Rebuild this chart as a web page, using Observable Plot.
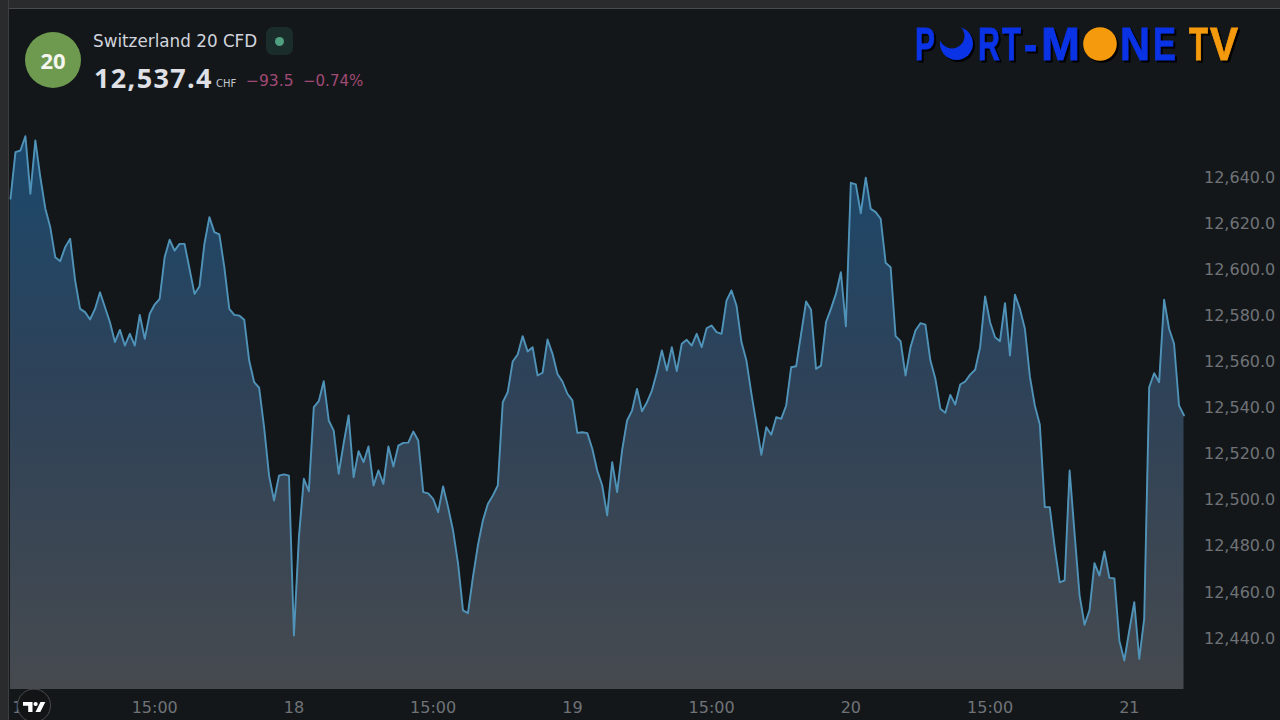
<!DOCTYPE html>
<html><head><meta charset="utf-8">
<script src="https://cdn.jsdelivr.net/npm/d3@7"></script>
<script src="https://cdn.jsdelivr.net/npm/@observablehq/plot@0.6"></script>
<style>
html,body{margin:0;padding:0;width:1280px;height:720px;overflow:hidden;background:#14171a}
#chart{position:absolute;left:0;top:0;width:1280px;height:720px}
#chart svg{position:absolute;left:0;top:0;max-width:none}
.abs{position:absolute;white-space:nowrap;font-family:"DejaVu Sans",sans-serif}
</style></head><body>
<div id="chart"></div>
<div class="abs" style="left:0;top:0;width:1280px;height:8px;background:#2a2b2d;border-bottom:1px solid #4a4b4d"></div>
<div class="abs" style="left:0;top:0;width:8px;height:720px;background:#2a2b2d;border-right:1px solid #3d3e40"></div>
<div class="abs" style="left:25px;top:32px;width:56px;height:56px;border-radius:50%;background:#6d9a4f;color:#f4f6ef;font-weight:700;font-size:22px;line-height:56px;text-align:center;font-family:'Open Sans',sans-serif">20</div>
<div class="abs" style="left:93px;top:31px;font-size:16.8px;line-height:20px;color:#d1d4dc">Switzerland 20 CFD</div>
<div class="abs" style="left:266px;top:27px;width:27px;height:28px;border-radius:7px;background:#1b2d2b"></div>
<div class="abs" style="left:274.5px;top:36.5px;width:9px;height:9px;border-radius:50%;background:#4f9f80"></div>
<div class="abs" style="left:94px;top:60px;font-family:'Open Sans',sans-serif;font-size:27px;line-height:36px;font-weight:700;color:#dfe1e6;letter-spacing:1.35px">12,537.4</div>
<div class="abs" style="left:216px;top:78px;font-size:10px;line-height:12px;color:#c4c7cf">CHF</div>
<div class="abs" style="left:246px;top:71px;font-size:15.5px;line-height:20px;color:#a04a75">−93.5</div>
<div class="abs" style="left:303px;top:71px;font-size:15px;line-height:20px;color:#a04a75">−0.74%</div>
<svg class="abs" id="brand" width="1280" height="720" style="left:0;top:0;pointer-events:none">
  <g id="brandText" font-family="Liberation Sans" font-weight="700" font-size="46" style="filter:drop-shadow(2px 2px 0 #000)"></g>
  <circle cx="34" cy="705.5" r="16.5" fill="#131416" stroke="#4a4b4d" stroke-width="1"/>
  <path d="M23 702h9.5v10h-4.3v-6.2h-5.2z" fill="#fff"/><circle cx="35.6" cy="704" r="2.1" fill="#fff"/><path d="M40.5 702h4.8l-5 10h-4.8z" fill="#fff"/>
</svg>
<script>
const closes = [12630.8,12651.0,12651.7,12657.9,12632.9,12656.1,12640.1,12626.6,12618.4,12605.4,12603.7,12609.8,12613.4,12595.3,12583.0,12581.6,12578.4,12583.0,12590.2,12583.7,12577.2,12568.6,12573.9,12567.1,12572.2,12567.1,12580.4,12570.0,12580.9,12584.9,12587.4,12605.4,12613.0,12608.3,12611.2,12611.2,12600.4,12589.5,12592.7,12611.2,12622.8,12616.3,12615.3,12601.1,12583.0,12580.4,12580.1,12578.3,12560.6,12551.2,12548.8,12531.7,12510.7,12499.9,12510.7,12511.2,12510.7,12441.3,12484.0,12509.3,12503.9,12540.4,12543.0,12551.6,12534.6,12530.2,12511.5,12524.6,12536.8,12510.0,12521.3,12516.5,12523.3,12506.4,12512.9,12507.1,12523.3,12514.6,12523.7,12524.9,12525.0,12529.8,12525.9,12503.5,12503.0,12500.6,12494.8,12506.0,12497.0,12486.9,12472.6,12452.2,12451.0,12466.6,12480.4,12491.2,12498.4,12502.0,12506.4,12542.5,12546.9,12560.2,12563.2,12571.2,12564.5,12566.4,12554.1,12555.3,12569.7,12563.5,12554.8,12551.5,12546.2,12543.3,12529.2,12529.5,12529.1,12522.3,12512.9,12506.4,12493.4,12516.5,12503.5,12521.6,12534.6,12538.9,12548.3,12538.6,12542.5,12547.6,12555.5,12565.0,12556.3,12566.4,12556.0,12567.9,12569.6,12567.1,12572.2,12566.4,12574.6,12575.8,12572.9,12572.2,12586.6,12591.0,12584.5,12568.6,12560.6,12546.2,12533.2,12519.7,12531.7,12528.4,12536.0,12535.3,12541.1,12557.7,12558.1,12572.2,12586.2,12582.6,12557.0,12558.4,12577.2,12583.0,12589.5,12598.9,12575.5,12637.7,12637.0,12624.5,12639.9,12626.4,12625.0,12622.1,12603.0,12601.1,12571.2,12569.0,12554.1,12566.4,12573.6,12576.8,12576.2,12560.6,12552.7,12539.7,12537.9,12545.7,12541.5,12550.2,12551.5,12554.5,12556.6,12566.4,12588.4,12577.2,12570.7,12569.0,12585.5,12562.8,12589.2,12583.0,12574.4,12553.7,12541.1,12532.9,12497.0,12497.0,12479.6,12464.4,12465.2,12512.9,12485.4,12458.7,12446.0,12452.2,12472.7,12467.3,12477.8,12466.3,12466.1,12439.1,12430.5,12443.5,12455.8,12431.2,12448.6,12549.0,12555.1,12551.2,12587.0,12574.4,12567.9,12541.1,12536.8];
const yTicks = [12440,12460,12480,12500,12520,12540,12560,12580,12600,12620,12640];
const xTicks = [2.4,29,57,85,113,141,169,197,225];
const xLabels = ["17","15:00","18","15:00","19","15:00","20","15:00","21"];
const yFloor = 12417.9;

const brand = [["P",915,20,"#0a33e6"],["R",978,22,"#0a33e6"],["T",1002,19,"#0a33e6"],["-",1024,13,"#0a33e6"],["M",1041,39,"#0a33e6"],["N",1120,30,"#0a33e6"],["E",1153,23,"#0a33e6"],["T",1189,19,"#f59a0d"],["V",1210,28,"#f59a0d"]];
const ns = "http://www.w3.org/2000/svg";
const gb = document.getElementById("brandText");
for (const [t,x,w,c] of brand) {
  const e = document.createElementNS(ns,"text");
  e.setAttribute("fill",c); e.setAttribute("stroke",c); e.setAttribute("stroke-width","0.9"); e.textContent=t; gb.appendChild(e);
  const natural = e.getComputedTextLength();
  e.setAttribute("transform",`translate(${x},60) scale(${w/natural},1)`);
}
gb.insertAdjacentHTML("beforeend",`<mask id="cres"><rect x="930" y="20" width="60" height="50" fill="#fff"/><circle cx="952" cy="36" r="12.5" fill="#000"/></mask>
<circle cx="956.5" cy="43.5" r="16.5" fill="#0a33e6" mask="url(#cres)"/>
<circle cx="1100" cy="44" r="16.8" fill="#f59a0d"/>`);

const defs = () => d3.create("svg:defs").html(`<linearGradient id="fillG" x1="0" y1="0" x2="0" y2="1">
  <stop offset="0" stop-color="#1b486c"/><stop offset="0.45" stop-color="#2e4258"/><stop offset="1" stop-color="#464a4f"/></linearGradient>`).node();

const chart = Plot.plot({
  width:1280, height:720, marginLeft:10, marginRight:96.5, marginTop:177, marginBottom:31,
  style:{background:"transparent",fontFamily:"DejaVu Sans",fontSize:"16px"},
  x:{domain:[0,236]}, y:{domain:[yFloor,12640]},
  marks:[
    defs,
    Plot.areaY(closes,{x:(d,i)=>i,y1:()=>yFloor,y2:d=>d,fill:"url(#fillG)"}),
    Plot.lineY(closes,{x:(d,i)=>i,y:d=>d,stroke:"#5093b8",strokeWidth:1.9}),
    Plot.axisY({anchor:"right",ticks:yTicks,tickSize:0,tickPadding:20,tickFormat:d3.format(",.1f"),label:null,fill:"#6f7377"}),
    Plot.axisX({anchor:"bottom",ticks:xTicks,tickSize:0,tickPadding:12,tickFormat:d=>xLabels[xTicks.indexOf(d)],label:null,fill:"#6f7377"})
  ]
});
document.getElementById("chart").appendChild(chart);
</script>
</body></html>
